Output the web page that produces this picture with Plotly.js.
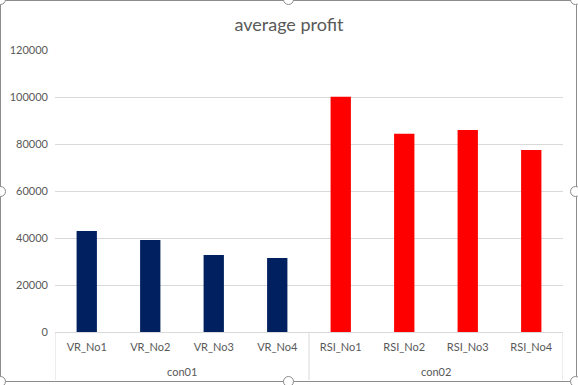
<!DOCTYPE html>
<html>
<head>
<meta charset="utf-8">
<script src="https://cdn.plot.ly/plotly-3.0.1.min.js"></script>
<style>
html,body{margin:0;padding:0;background:#fff;overflow:hidden;}
#frame{position:absolute;left:0;top:0;width:575px;height:380px;border:1.5px solid #8c8c8c;border-radius:3px;}
#chart{position:absolute;left:0;top:0;width:578px;height:385px;}
.h{position:absolute;width:9px;height:9px;border:1.5px solid #8c8c8c;border-radius:50%;background:#fff;z-index:5;}
</style>
</head>
<body>
<div id="frame"></div>
<div id="chart"></div>
<div class="h" style="left:-5px;top:-6px"></div>
<div class="h" style="left:283px;top:-6px"></div>
<div class="h" style="left:570px;top:-6px"></div>
<div class="h" style="left:-5px;top:186px"></div>
<div class="h" style="left:570px;top:186px"></div>
<div class="h" style="left:-5px;top:376px"></div>
<div class="h" style="left:283px;top:376px"></div>
<div class="h" style="left:570px;top:376px"></div>
<script>
const groups = ["con01","con01","con01","con01","con02","con02","con02","con02"];
const categories = ["VR_No1","VR_No2","VR_No3","VR_No4","RSI_No1","RSI_No2","RSI_No3","RSI_No4"];
const profits = [43000, 39200, 32800, 31500, 100100, 84400, 86000, 77500];
const yTicks = [0, 20000, 40000, 60000, 80000, 100000, 120000];

const groupColor = {con01: "#002060", con02: "#FF0000"};

// group spans derived from the groups array (category index ranges)
const groupNames = [...new Set(groups)];
const spans = groupNames.map(g => {
  const idx = groups.map((v, i) => v === g ? i : -1).filter(i => i >= 0);
  return {name: g, start: Math.min(...idx), end: Math.max(...idx)};
});

const trace = {
  type: "bar",
  x: categories,
  y: profits,
  marker: {color: groups.map(g => groupColor[g])},
  hoverinfo: "x+y"
};

const dividerPos = [-0.5, ...spans.map(s => s.end + 0.5)];
const shapes = dividerPos.map(p => ({
  type: "line", xref: "x", yref: "paper",
  x0: p, x1: p, y0: 0, y1: -0.17,
  line: {color: "#d9d9d9", width: 1}
}));

const annotations = spans.map(s => ({
  xref: "x", yref: "paper",
  x: (s.start + s.end) / 2, y: -0.1418,
  xanchor: "center", yanchor: "middle",
  text: s.name, showarrow: false,
  font: {family: "Lato, 'Open Sans', sans-serif", size: 11, color: "#595959"}
}));

const layout = {
  width: 578, height: 385,
  margin: {l: 55, r: 15, t: 50, b: 53},
  paper_bgcolor: "rgba(0,0,0,0)",
  plot_bgcolor: "rgba(0,0,0,0)",
  font: {family: "Lato, 'Open Sans', sans-serif", size: 11, color: "#595959"},
  title: {text: "average profit", x: 0.5, xref: "container", xanchor: "center",
          y: 0.937, yref: "container", yanchor: "middle",
          font: {family: "Lato, 'Open Sans', sans-serif", size: 18, color: "#595959"}},
  bargap: 0.68,
  showlegend: false,
  shapes: shapes,
  annotations: annotations,
  xaxis: {
    type: "category",
    range: [-0.5, categories.length - 0.5],
    showline: true, linecolor: "#d9d9d9", linewidth: 1,
    showgrid: false,
    tickfont: {size: 11, color: "#595959"},
    ticks: "",
    ticklabelstandoff: 5
  },
  yaxis: {
    range: [0, 120000],
    tickvals: yTicks,
    ticktext: yTicks.map(String),
    showgrid: true, gridcolor: "#d9d9d9", gridwidth: 1,
    zeroline: false, showline: false,
    tickfont: {size: 11, color: "#595959"},
    ticklabelstandoff: 6
  }
};

Plotly.newPlot("chart", [trace], layout, {displayModeBar: false, staticPlot: true});
</script>
</body>
</html>
